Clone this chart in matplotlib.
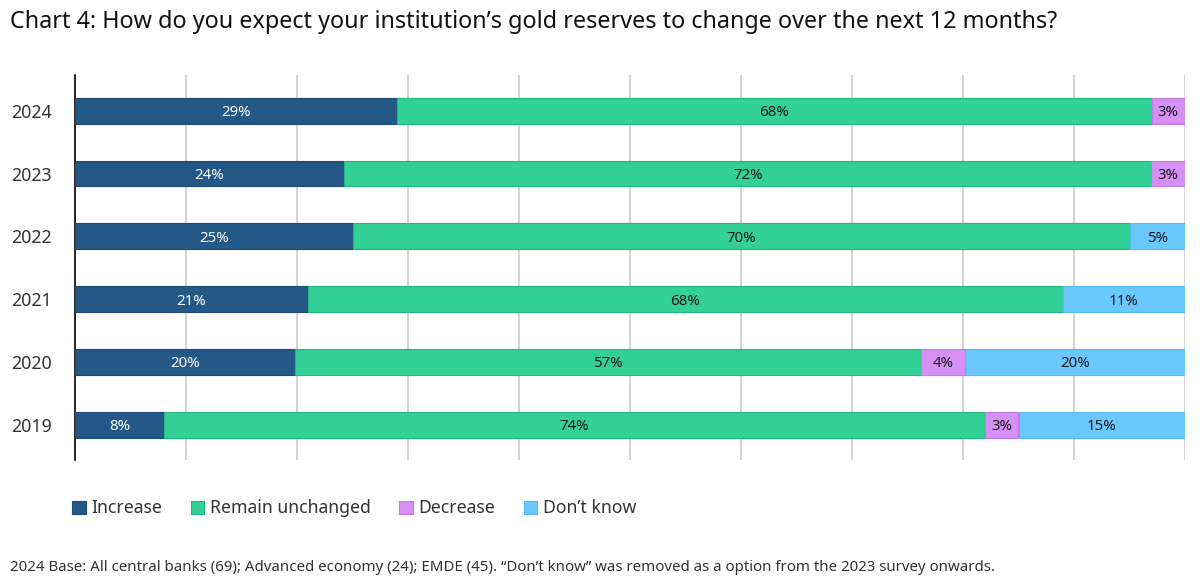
import matplotlib
matplotlib.use("Agg")
import matplotlib.pyplot as plt
from matplotlib.patches import Patch
import numpy as np

plt.rcParams['font.family'] = ['Noto Sans', 'DejaVu Sans']

years = ["2024", "2023", "2022", "2021", "2020", "2019"]
increase = [29, 24, 25, 21, 20, 8]
unchanged = [68, 72, 70, 68, 57, 74]
decrease = [3, 3, 0, 0, 4, 3]
dont_know = [0, 0, 5, 11, 20, 15]

series_names = ["Increase", "Remain unchanged", "Decrease", "Don\u2019t know"]
colors = ["#245886", "#33D197", "#D68FF5", "#69C8FF"]
edge_colors = ["#1C4A75", "#22B67F", "#C07CE0", "#55B8F0"]
text_colors = ["white", "#1a1a1a", "#1a1a1a", "#1a1a1a"]

fig = plt.figure(figsize=(12, 5.87), dpi=100)
ax = fig.add_axes([0.0625, 0.2164, 0.925, 0.656])

data = np.array([increase, unchanged, decrease, dont_know], dtype=float)
totals = data.sum(axis=0)
shares = data / totals * 100

ypos = np.arange(len(years))[::-1]
left = np.zeros(len(years))
for i in range(4):
    ax.barh(ypos, shares[i], left=left, height=0.41, color=colors[i],
            edgecolor=edge_colors[i], linewidth=0.8, zorder=3)
    for j in range(len(years)):
        if data[i, j] > 0:
            ax.text(left[j] + shares[i, j] / 2, ypos[j], f"{int(data[i, j])}%",
                    ha="center", va="center_baseline", fontsize=10.8, color=text_colors[i], zorder=4)
    left += shares[i]

ax.set_xlim(0, 100)
ax.set_ylim(-0.56, 5.57)
ax.set_xticks(np.arange(10, 101, 10))
ax.xaxis.grid(True, color="#cccccc", linewidth=1.2, zorder=0)
ax.tick_params(axis="x", bottom=False, labelbottom=False)
ax.set_yticks(ypos)
ax.set_yticklabels(years, fontsize=12.8, color="#333333")
ax.tick_params(axis="y", length=0, pad=16.5)
for s in ["top", "right", "bottom"]:
    ax.spines[s].set_visible(False)
ax.spines["left"].set_color("black")
ax.spines["left"].set_linewidth(1.2)
ax.set_axisbelow(True)

fig.text(0.008, 0.962, "Chart 4: How do you expect your institution\u2019s gold reserves to change over the next 12 months?",
         fontsize=16.8, color="#111111", ha="left", va="center")

handles = [Patch(facecolor=c, edgecolor=e, linewidth=0.8) for c, e in zip(colors, edge_colors)]
fig.legend(handles, series_names, loc="center left", bbox_to_anchor=(0.047, 0.134),
           ncol=4, frameon=False, fontsize=12.7, handlelength=0.75, handleheight=0.75,
           handletextpad=0.35, columnspacing=1.6, labelcolor="#333333")

fig.text(0.008, 0.034, "2024 Base: All central banks (69); Advanced economy (24); EMDE (45). \u201cDon\u2019t know\u201d was removed as a option from the 2023 survey onwards.",
         fontsize=10.8, color="#333333", ha="left", va="center")

fig.savefig("out.png", dpi=100, facecolor="white")
